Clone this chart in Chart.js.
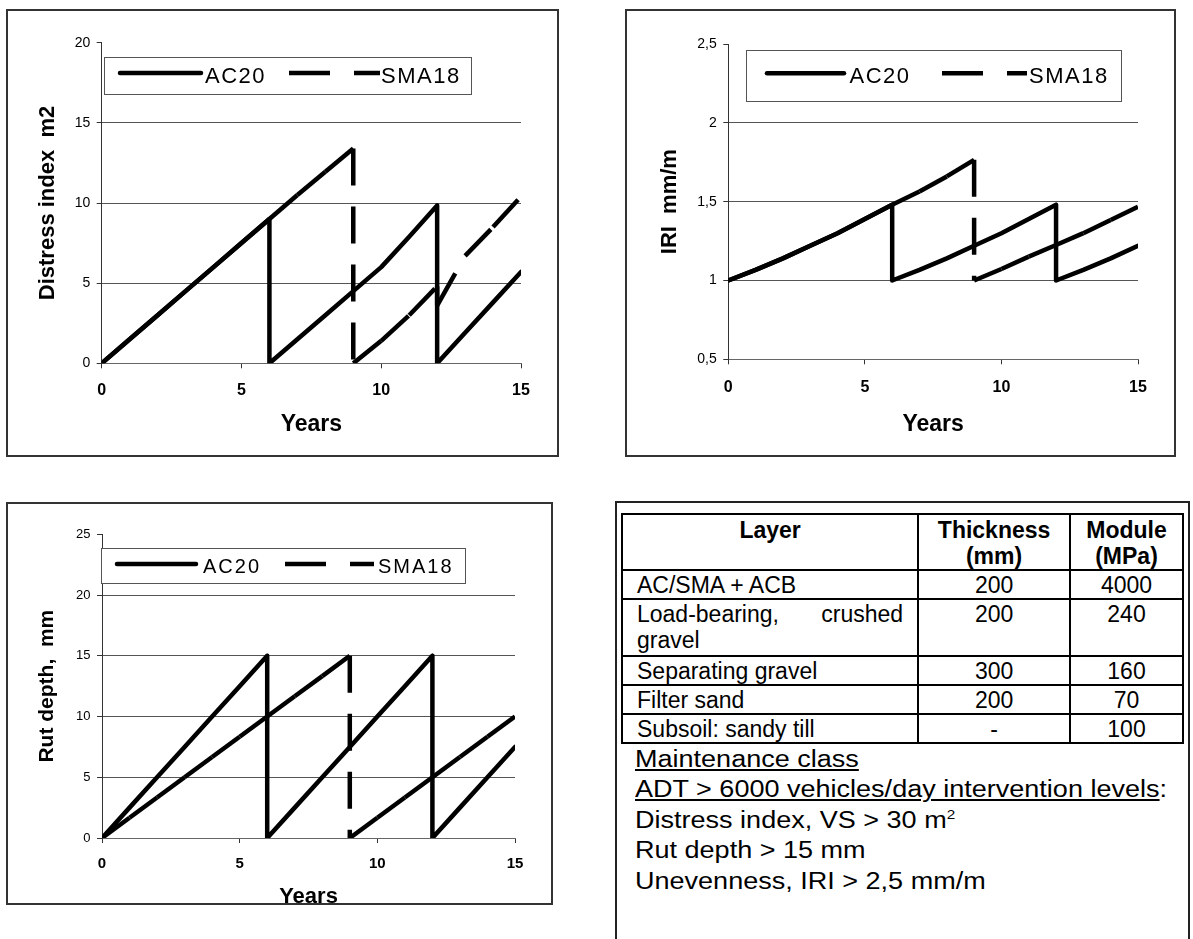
<!DOCTYPE html>
<html>
<head>
<meta charset="utf-8">
<script src="https://cdn.jsdelivr.net/npm/chart.js@4/dist/chart.umd.min.js"></script>
<style>
  body {
    margin: 0;
    width: 1193px;
    height: 939px;
    overflow: hidden;
    position: relative;
    background: #fff;
    font-family: "Liberation Sans", Arial, sans-serif;
  }
  .frame {
    position: absolute;
    box-sizing: border-box;
    border: 2px solid #333;
    background: #fff;
  }
  .frame canvas { display: block; }
  .panel {
    position: absolute;
    left: 615px;
    top: 501px;
    width: 575px;
    height: 520px;
    box-sizing: border-box;
    border: 2px solid #222;
  }
  table.layers {
    position: absolute;
    left: 621px;
    top: 513px;
    width: 563px;
    border-collapse: collapse;
    font-size: 23px;
    line-height: 26px;
    color: #000;
  }
  table.layers th, table.layers td {
    border: 2px solid #000;
    padding: 1px 14px 0 14px;
    vertical-align: top;
  }
  table.layers th { font-weight: bold; text-align: center; padding-top: 2px; }
  table.layers td.num { text-align: center; padding: 1px 4px 0 4px; }
  table.layers td.just { text-align: justify; }
  .notes {
    position: absolute;
    left: 635px;
    top: 744px;
    font-size: 23px;
    line-height: 30.4px;
    color: #000;
    transform: scaleX(1.175);
    transform-origin: 0 0;
  }
  .notes u { text-decoration-thickness: 1.5px; text-underline-offset: 2px; }
  .notes sup { font-size: 13px; line-height: 0; vertical-align: 9px; }
</style>
</head>
<body>

<div class="frame" style="left:6px; top:9px; width:553px; height:448px;">
  <canvas id="distress" width="549" height="444"></canvas>
</div>
<div class="frame" style="left:625px; top:9px; width:551px; height:448px;">
  <canvas id="iri" width="547" height="444"></canvas>
</div>
<div class="frame" style="left:6px; top:502px; width:547px; height:403px;">
  <canvas id="rut" width="543" height="399"></canvas>
</div>

<div class="panel"></div>
<table class="layers">
  <colgroup><col style="width:298px"><col style="width:152px"><col style="width:113px"></colgroup>
  <tr style="height:56px"><th>Layer</th><th>Thickness<br>(mm)</th><th>Module<br>(MPa)</th></tr>
  <tr style="height:29px"><td>AC/SMA + ACB</td><td class="num">200</td><td class="num">4000</td></tr>
  <tr style="height:57px"><td class="just">Load-bearing, crushed gravel</td><td class="num">200</td><td class="num">240</td></tr>
  <tr style="height:29px"><td>Separating gravel</td><td class="num">300</td><td class="num">160</td></tr>
  <tr style="height:29px"><td>Filter sand</td><td class="num">200</td><td class="num">70</td></tr>
  <tr style="height:28px"><td>Subsoil: sandy till</td><td class="num">-</td><td class="num">100</td></tr>
</table>
<div class="notes">
  <div><u>Maintenance class</u></div>
  <div><u>ADT &gt; 6000 vehicles/day intervention levels</u>:</div>
  <div>Distress index, VS &gt; 30 m<sup>2</sup></div>
  <div>Rut depth &gt; 15 mm</div>
  <div>Unevenness, IRI &gt; 2,5 mm/m</div>
</div>

<script>
// Distress index, m2
const distressYearsAC20 = [0, 1, 2, 3, 4, 5, 6, 6, 7, 8, 9, 10, 11, 12, 12, 13, 14, 15];
const distressAC20 = [0, 1.5, 3, 4.5, 6, 7.5, 9, 0, 1.5, 3, 4.5, 6, 7.9, 9.85, 0, 1.9, 3.8, 5.7];
const distressYearsSMA18 = [0, 1, 2, 3, 4, 5, 6, 7, 8, 9, 9, 10, 11, 12, 12, 13, 14, 15];
const distressSMA18 = [0, 1.5, 3, 4.5, 6, 7.5, 9, 10.5, 11.95, 13.4, 0, 1.4, 3.0, 4.8, 3.6, 6.7, 8.5, 10.4];

// IRI, mm/m
const iriYearsAC20 = [0, 1, 2, 3, 4, 5, 6, 6, 7, 8, 9, 10, 11, 12, 12, 13, 14, 15];
const iriAC20 = [1, 1.067, 1.14, 1.22, 1.3, 1.39, 1.48, 1, 1.067, 1.14, 1.22, 1.3, 1.39, 1.48, 1, 1.067, 1.14, 1.22];
const iriYearsSMA18 = [0, 1, 2, 3, 4, 5, 6, 7, 8, 9, 9, 10, 11, 12, 13, 14, 15];
const iriSMA18 = [1, 1.067, 1.14, 1.22, 1.3, 1.39, 1.48, 1.565, 1.66, 1.765, 1, 1.073, 1.151, 1.225, 1.3, 1.384, 1.468];

// Rut depth, mm
const rutYearsAC20 = [0, 1, 2, 3, 4, 5, 6, 6, 7, 8, 9, 10, 11, 12, 12, 13, 14, 15];
const rutAC20 = [0, 2.5, 5, 7.5, 10, 12.5, 15, 0, 2.5, 5, 7.5, 10, 12.5, 15, 0, 2.5, 5, 7.5];
const rutYearsSMA18 = [0, 1, 2, 3, 4, 5, 6, 7, 8, 9, 9, 10, 11, 12, 13, 14, 15];
const rutSMA18 = [0, 1.67, 3.33, 5, 6.67, 8.33, 10, 11.67, 13.33, 15, 0, 1.67, 3.33, 5, 6.67, 8.33, 10];

const seriesNames = ["AC20", "SMA18"];
const yearTicks = [0, 5, 10, 15];

const FONT = "'Liberation Sans', Arial, sans-serif";
const SMA_DASH = [37, 21];

function points(xs, ys) {
  return xs.map((x, i) => ({ x: x, y: ys[i] }));
}

// Legend drawn as a framed box inside the plot, on top of everything
const boxedLegend = {
  id: "boxedLegend",
  afterDraw(chart, args, opts) {
    const { ctx, chartArea } = chart;
    const bx = chartArea.left + opts.dx;
    const by = chartArea.top + opts.dy;
    ctx.save();
    ctx.fillStyle = "#fff";
    ctx.fillRect(bx, by, opts.width, opts.height);
    ctx.setLineDash([]);
    ctx.lineWidth = 1;
    ctx.strokeStyle = "#555";
    ctx.strokeRect(bx + 0.5, by + 0.5, opts.width, opts.height);

    const ly = by + opts.lineY;
    chart.data.datasets.forEach((ds, i) => {
      const it = opts.items[i];
      ctx.beginPath();
      ctx.lineWidth = ds.borderWidth;
      ctx.strokeStyle = ds.borderColor;
      ctx.lineCap = ds.borderCapStyle || "butt";
      ctx.setLineDash(ds.borderDash ? opts.sampleDash : []);
      ctx.moveTo(bx + it.from, ly);
      ctx.lineTo(bx + it.to, ly);
      ctx.stroke();

      ctx.setLineDash([]);
      ctx.fillStyle = "#000";
      ctx.font = opts.fontSize + "px " + FONT;
      ctx.letterSpacing = opts.letterSpacing || "0px";
      ctx.textAlign = "left";
      ctx.textBaseline = "alphabetic";
      ctx.fillText(ds.label, bx + it.text, ly + opts.textDrop);
    });
    ctx.restore();
  }
};

function makeChart(id, s) {
  const datasets = [
    {
      label: seriesNames[0],
      data: points(s.xa, s.ya),
      borderColor: "#000",
      borderWidth: 4.5,
      borderCapStyle: "round",
      borderJoinStyle: "round",
      pointRadius: 0,
      fill: false
    },
    {
      label: seriesNames[1],
      data: points(s.xb, s.yb),
      borderColor: "#000",
      borderWidth: 4.5,
      borderDash: SMA_DASH,
      borderCapStyle: "butt",
      borderJoinStyle: "miter",
      pointRadius: 0,
      fill: false,
      // every yearly segment is stroked on its own, so the dash pattern restarts at each point
      segment: {
        borderDash: SMA_DASH,
        borderDashOffset: (ctx) => (ctx.p0DataIndex % 2 ? 0.001 : 0)
      }
    }
  ];

  return new Chart(document.getElementById(id), {
    type: "line",
    data: { datasets: datasets },
    options: {
      responsive: false,
      animation: false,
      events: [],
      layout: { padding: { left: 0, top: s.area.top, right: s.area.right, bottom: 0 } },
      plugins: {
        legend: { display: false },
        tooltip: { enabled: false },
        boxedLegend: s.legend
      },
      scales: {
        x: {
          type: "linear",
          min: 0,
          max: 15,
          afterBuildTicks: (scale) => { scale.ticks = yearTicks.map((v) => ({ value: v })); },
          afterFit: (scale) => { scale.height = s.area.xHeight; },
          grid: { drawOnChartArea: false, drawTicks: true, tickLength: 5, tickColor: "#333", lineWidth: 1 },
          border: { display: true, color: "#666", width: 1 },
          ticks: {
            padding: s.xTickPad,
            color: "#000",
            font: { family: FONT, size: s.xTickSize, weight: "bold" },
            maxRotation: 0
          },
          title: {
            display: true,
            text: "Years",
            color: "#000",
            font: { family: FONT, size: s.xTitleSize, weight: "bold", lineHeight: 1 },
            padding: { top: 0, bottom: s.xTitlePad }
          }
        },
        y: {
          type: "linear",
          min: s.yMin,
          max: s.yMax,
          ticks: {
            stepSize: s.yStep,
            padding: 6.5,
            color: "#000",
            font: { family: FONT, size: s.yTickSize },
            callback: (v) => String(v).replace(".", ",")
          },
          afterFit: (scale) => { scale.width = s.area.left; },
          grid: {
            color: (ctx) => (ctx.tick && ctx.tick.value === s.yMax ? "rgba(0,0,0,0)" : "#555"),
            tickColor: "#333",
            tickLength: 5,
            lineWidth: 1
          },
          border: { display: true, color: "#333", width: 1 },
          title: {
            display: true,
            text: s.yTitle,
            color: "#000",
            font: { family: FONT, size: s.yTitleSize, weight: "bold", lineHeight: 1 },
            padding: { top: s.yTitlePad, bottom: 0 }
          }
        }
      }
    },
    plugins: [boxedLegend]
  });
}

makeChart("distress", {
  xa: distressYearsAC20, ya: distressAC20, xb: distressYearsSMA18, yb: distressSMA18,
  yMin: 0, yMax: 20, yStep: 5,
  yTitle: "Distress index  m2",
  area: { left: 93.7, top: 31.7, right: 36, xHeight: 91.7 },
  yTitleSize: 22, xTitleSize: 23, xTickSize: 16, yTickSize: 14, xTickPad: 12.5, xTitlePad: 18.4, yTitlePad: 29,
  legend: {
    dx: 2.3, dy: 14.3, width: 367, height: 37, lineY: 16, textDrop: 10, fontSize: 22, letterSpacing: "1.5px",
    sampleDash: [41, 24],
    items: [{ from: 16, to: 97, text: 101 }, { from: 185, to: 276, text: 277 }]
  }
});

makeChart("iri", {
  xa: iriYearsAC20, ya: iriAC20, xb: iriYearsSMA18, yb: iriSMA18,
  yMin: 0.5, yMax: 2.5, yStep: 0.5,
  yTitle: "IRI  mm/m",
  area: { left: 101.3, top: 33, right: 36, xHeight: 95.7 },
  yTitleSize: 22, xTitleSize: 23, xTickSize: 16, yTickSize: 14, xTickPad: 13.5, xTitlePad: 18.4, yTitlePad: 32,
  legend: {
    dx: 17.7, dy: 6, width: 375, height: 51, lineY: 23.3, textDrop: 10, fontSize: 22, letterSpacing: "1.5px",
    sampleDash: [41, 24],
    items: [{ from: 21, to: 98, text: 103.5 }, { from: 196, to: 281, text: 283 }]
  }
});

makeChart("rut", {
  xa: rutYearsAC20, ya: rutAC20, xb: rutYearsSMA18, yb: rutSMA18,
  yMin: 0, yMax: 25, yStep: 5,
  yTitle: "Rut depth,  mm",
  area: { left: 94, top: 30.3, right: 36, xHeight: 65 },
  yTitleSize: 21, xTitleSize: 22, xTickSize: 15, yTickSize: 13, xTickPad: 11.5, xTitlePad: -5, yTitlePad: 28.5,
  legend: {
    dx: -1, dy: 13.7, width: 364, height: 35, lineY: 16, textDrop: 9, fontSize: 20, letterSpacing: "2px",
    sampleDash: [41, 24],
    items: [{ from: 16, to: 95, text: 102 }, { from: 184, to: 273, text: 277 }]
  }
});
</script>
</body>
</html>
